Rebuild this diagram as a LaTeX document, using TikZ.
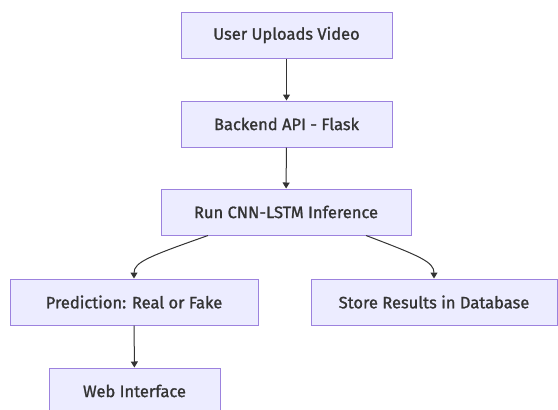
\documentclass[tikz,border=0pt]{standalone}
\usepackage{xcolor}
\usepackage{fontspec}
\setmainfont{Fira Sans}[FakeBold=1.2]
\usepackage{tikz}
\usetikzlibrary{arrows.meta}
\definecolor{mmfill}{HTML}{ECECFF}
\definecolor{mmline}{HTML}{9C82DE}
\definecolor{mmtext}{HTML}{333333}

\tikzset{
  flowbox/.style={fill=mmfill, draw=mmline, line width=1pt, minimum height=46pt,
        text=mmtext, font=\fontsize{16.5}{19}\selectfont},
  flowarrow/.style={draw=mmtext, line width=1pt, -{Triangle[length=6pt,width=7pt]}}
}

\begin{document}
\begin{tikzpicture}[x=1pt, y=-1pt]
  \useasboundingbox (0,0) rectangle (558,410);
  \node[flowbox, minimum width=211pt] (upload)   at (286.5,35)  {User Uploads Video};
  \node[flowbox, minimum width=211pt] (backend)  at (286.5,124) {Backend API - Flask};
  \node[flowbox, minimum width=250pt] (infer)    at (286,212)   {Run CNN-LSTM Inference};
  \node[flowbox, minimum width=248pt] (predict)  at (134,302)   {Prediction: Real or Fake};
  \node[flowbox, minimum width=246pt] (store)    at (434,302)   {Store Results in Database};
  \node[flowbox, minimum width=171pt] (web)      at (134.5,391) {Web Interface};

  \draw[flowarrow] (upload) -- (backend);
  \draw[flowarrow] (backend) -- (infer);
  \draw[flowarrow] ([xshift=-78pt]infer.south) .. controls (150,256) and (134,262) .. (predict.north);
  \draw[flowarrow] ([xshift=80pt]infer.south) .. controls (420,256) and (434,262) .. (store.north);
  \draw[flowarrow] (predict) -- (web);
\end{tikzpicture}
\end{document}
